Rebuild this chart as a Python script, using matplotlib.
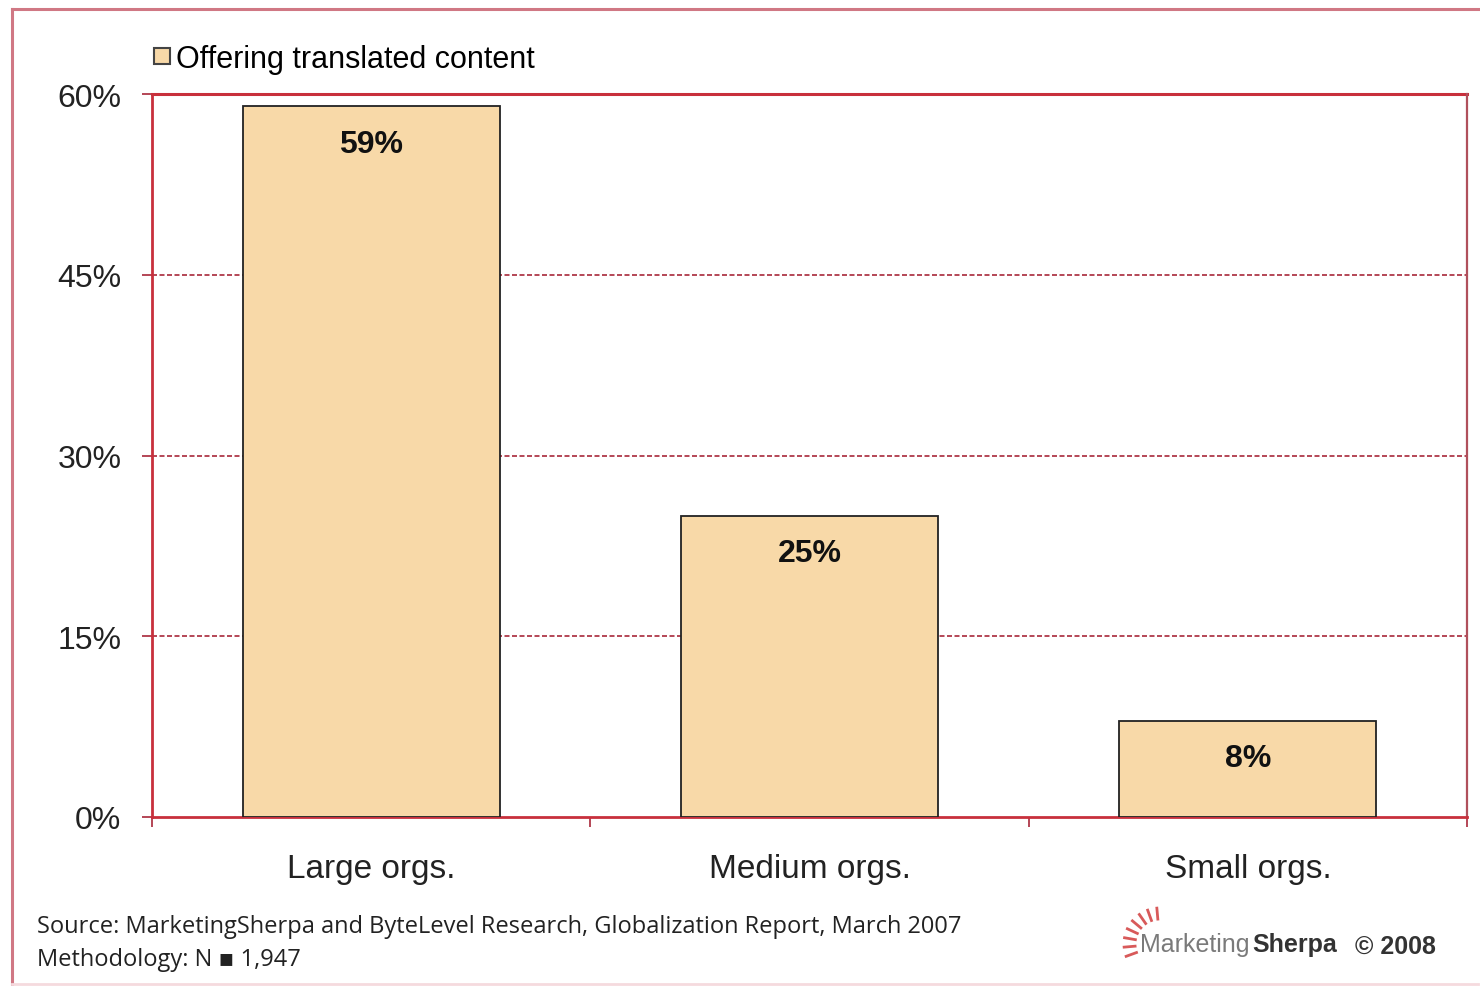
import numpy as np
import matplotlib
matplotlib.use("Agg")
import matplotlib.pyplot as plt
from matplotlib.lines import Line2D

# data
categories = ["Large orgs.", "Medium orgs.", "Small orgs."]
values = [59, 25, 8]
bar_labels = ["59%", "25%", "8%"]
y_ticks = [0, 15, 30, 45, 60]
series_name = "Offering translated content"
source_lines = ["Source: MarketingSherpa and ByteLevel Research, Globalization Report, March 2007",
                "Methodology: N \u25aa 1,947"]

plt.rcParams['font.family'] = ['Liberation Sans', 'DejaVu Sans']

bar_color = "#F8D9A8"
red = "#C8303C"
grid_red = "#A8283A"

fig = plt.figure(figsize=(14.8, 9.87), dpi=100)
ax = fig.add_axes([152 / 1480, 1 - 818 / 987, 1315 / 1480, 723 / 987])

x = np.arange(len(categories))
ax.bar(x, values, width=0.587, color=bar_color, edgecolor="#222222", linewidth=1.3, zorder=3)

for xi, v, lab in zip(x, values, bar_labels):
    ax.annotate(lab, (xi, v), xytext=(0, -27), textcoords="offset points",
                ha="center", va="center", fontsize=23, fontweight="bold", color="#111111", zorder=4)

ax.set_xlim(-0.5, len(categories) - 0.5)
ax.set_ylim(0, 60)
ax.set_yticks(y_ticks)
ax.set_yticklabels([f"{t}%" for t in y_ticks], fontsize=23, color="#222222")

# dashed gridlines, solid top
for t in y_ticks[1:-1]:
    ax.axhline(t, color=grid_red, linestyle=(0, (3, 1.5)), linewidth=1.2, zorder=1)
ax.axhline(60, color=red, linewidth=2.2, zorder=2, clip_on=False)

# category boundary ticks on x
ax.set_xticks(np.arange(-0.5, len(categories), 1.0))
ax.set_xticklabels([])
ax.tick_params(axis="x", length=7, width=1.2, color=grid_red, direction="out")
ax.tick_params(axis="y", length=7, width=1.2, color=grid_red, direction="out", pad=15)
for xi, c in zip(x, categories):
    ax.text(xi, -4.3, c, ha="center", va="center", fontsize=24, color="#222222")

for side in ["left", "bottom"]:
    ax.spines[side].set_color(red)
    ax.spines[side].set_linewidth(2.0)
ax.spines["top"].set_visible(False)
ax.spines["right"].set_color("#B0505C")
ax.spines["right"].set_linewidth(1.6)

# legend
leg_handle = Line2D([], [], marker="s", linestyle="none", markersize=11,
                    markerfacecolor=bar_color, markeredgecolor="#444444", markeredgewidth=1.5)
ax.legend([leg_handle], [series_name], loc="lower left", bbox_to_anchor=(150 / 1480, 1 - 75 / 987),
          bbox_transform=fig.transFigure, frameon=False, fontsize=22, handletextpad=0.05,
          handlelength=0.8, borderpad=0, borderaxespad=0)

# outer border
fig.add_artist(Line2D([12 / 1480, 12 / 1480], [1 - 985 / 987, 1 - 10 / 987],
                      transform=fig.transFigure, color="#D07884", linewidth=2.2))
fig.add_artist(Line2D([12 / 1480, 1478 / 1480], [1 - 10 / 987, 1 - 10 / 987],
                      transform=fig.transFigure, color="#D07884", linewidth=2.2))
fig.add_artist(Line2D([12 / 1480, 1478 / 1480], [1 - 985 / 987, 1 - 985 / 987],
                      transform=fig.transFigure, color="#F5DADE", linewidth=2))

# footer
fig.text(37 / 1480, 1 - 927 / 987, source_lines[0], fontsize=17, family=["Open Sans", "DejaVu Sans"],
         color="#222222", va="center")
fig.text(37 / 1480, 1 - 960 / 987, source_lines[1], fontsize=17, family=["Open Sans", "DejaVu Sans"],
         color="#222222", va="center")

fig.text(1140 / 1480, 1 - 945 / 987, "Marketing", fontsize=18, color="#7A7A7A", va="center", ha="left")
fig.text(1252 / 1480, 1 - 945 / 987, "Sherpa", fontsize=18, color="#333333", va="center",
         ha="left", fontweight="bold")
fig.text(1355 / 1480, 1 - 947 / 987, "\u00a9 2008", fontsize=18, color="#333333", va="center",
         ha="left", fontweight="bold")
# sun rays of the logo
cx, cy = 1160, 945
for ang in np.linspace(95, 200, 8):
    a = np.deg2rad(ang)
    r0, r1 = 25, 36
    fig.add_artist(Line2D([(cx + r0 * np.cos(a)) / 1480, (cx + r1 * np.cos(a)) / 1480],
                          [1 - (cy - r0 * np.sin(a)) / 987, 1 - (cy - r1 * np.sin(a)) / 987],
                          transform=fig.transFigure, color="#D85A5A", linewidth=2))

fig.savefig("out.png", dpi=100, facecolor="white")
